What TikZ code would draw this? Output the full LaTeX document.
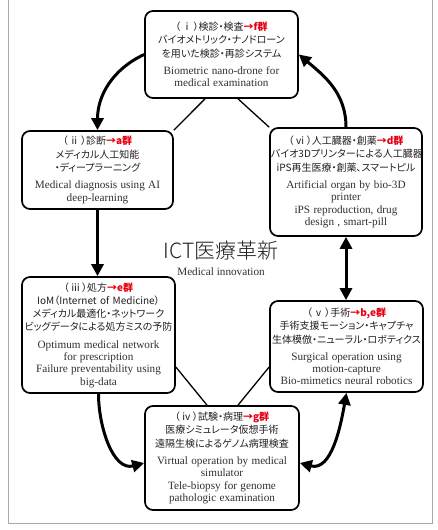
\documentclass[tikz,border=0pt]{standalone}
\usepackage{fontspec}
\setmainfont{Liberation Serif}
\newfontfamily\jpf{Noto Sans CJK JP}[RawFeature=+palt]
\IfFontExistsTF{Noto Sans CJK JP Light}{\newfontfamily\jpl{Noto Sans CJK JP Light}}{\newfontfamily\jpl{Noto Sans CJK JP}}
\usetikzlibrary{arrows.meta,calc}
\definecolor{jpred}{HTML}{E60012}
\definecolor{txt}{HTML}{231F20}
\definecolor{entxt}{HTML}{342F30}
\definecolor{framegray}{HTML}{A8A8A8}
\newcommand\rd[1]{{\color{jpred}\bfseries #1}}
\newcommand\jpt{\jpf\fontsize{10}{13.3}\selectfont\color{txt}}
\newcommand\ent{\rmfamily\fontsize{11.2}{12.3}\selectfont\color{entxt}}
\newcommand\boxtext[2]{{\jpt #1\par}\vspace{5pt}{\ent #2\par}}
\newcommand\hd[3]{（\,#1\,）#2\rd{→#3群}}
\pgfdeclarelayer{bg}
\pgfsetlayers{bg,main}
\tikzset{
  box/.style={draw=black, line width=1.7pt, rounded corners=8pt, fill=white,
    align=center, inner xsep=1pt, inner ysep=0pt},
  thinline/.style={line width=1.3pt, draw=black},
  fat/.style={line width=3pt, draw=black, -{Triangle[length=12pt,width=12pt]}},
  fatboth/.style={line width=3pt, draw=black, {Triangle[length=12pt,width=12pt]}-{Triangle[length=12pt,width=12pt]}},
}
\begin{document}
\begin{tikzpicture}[x=1pt,y=-1pt]
\useasboundingbox (0,0) rectangle (438,530);

\node[box, text width=151pt, minimum height=87pt] (i) at (221.5,54.5)
  {\boxtext{\hd{ⅰ}{検診・検査}{f}\\バイオメトリック・ナノドローン\\を用いた検診・再診システム}{Biometric nano-drone for\\medical examination}};
\node[box, text width=149pt, minimum height=78pt] (ii) at (97.5,170)
  {\boxtext{\hd{ⅱ}{診断}{a}\\メディカル人工知能\\・ディープラーニング}{Medical diagnosis using AI\\deep-learning}};
\node[box, text width=150pt, minimum height=108pt] (vi) at (346,182)
  {\boxtext{\hd{ⅵ}{人工臓器・創薬}{d}\\バイオ3Dプリンターによる人工臓器\\iPS再生医療・創薬、スマートピル}{Artificial organ by bio-3D\\printer\\iPS reproduction, drug\\design , smart-pill}};
\node[box, text width=151pt, minimum height=116pt] (iii) at (98.5,335)
  {\boxtext{\hd{ⅲ}{処方}{e}\\IoM（Internet of Medicine）\\メディカル最適化・ネットワーク\\ビッグデータによる処方ミスの予防}{Optimum medical network\\for prescription\\Failure preventability using\\big-data}};
\node[box, text width=151pt, minimum height=91pt] (v) at (346.5,346.5)
  {\boxtext{\hd{ⅴ}{手術}{b,e}\\手術支援モーション・キャプチャ\\生体模倣・ニューラル・ロボティクス}{Surgical operation using\\motion-capture\\Bio-mimetics neural robotics}};
\node[box, text width=152pt, minimum height=104pt] (iv) at (222,458)
  {\boxtext{\hd{ⅳ}{試験・病理}{g}\\医療シミュレータ仮想手術\\遠隔生検によるゲノム病理検査}{Virtual operation by medical\\simulator\\Tele-biopsy for genome\\pathologic examination}};

\node (title) at (221,251) {\jpl\fontsize{21}{21}\selectfont\color{txt}ICT医療革新};
\node (sub) at (221,272) {\ent Medical innovation};

\begin{pgfonlayer}{bg}
\fill[white] (0,0) rectangle (438,530);
\draw[framegray, line width=1pt] (8,-2) -- (8,523) -- (432,523) -- (432,-2);
% hexagon thin lines
\draw[thinline] ($(i.south)+(-16.5,0)$) -- (ii.north east);
\draw[thinline] ($(i.south)+(16.5,0)$) -- (vi.north west);
\draw[thinline] ($(ii.south)+(29.5,0)$) -- ($(ii.south)+(29.5,0)$ |- iii.north);
\draw[thinline] ($(vi.south)+(-29,0)$) -- ($(vi.south)+(-29,0)$ |- v.north);
\draw[thinline] ($(iii.east)+(0,32)$) -- ($(iv.north)+(-15,0)$);
\draw[thinline] ($(v.west)+(0,20.5)$) -- ($(iv.north)+(16,0)$);
% thick arrows
\draw[fat] (i.west) to[out=205,in=90] (ii.north);
\draw[fat] (vi.north) to[out=90,in=-40] (i.east);
\draw[fat] (ii.south) -- (ii.south |- iii.north);
\draw[fatboth] (vi.south) -- (vi.south |- v.north);
\draw[fat] (iii.south) to[out=-90,in=195] ($(iv.west)+(0,5)$);
\draw[fatboth] (v.south) to[out=-100,in=-15] ($(iv.east)+(0,5)$);
\end{pgfonlayer}
\end{tikzpicture}
\end{document}
